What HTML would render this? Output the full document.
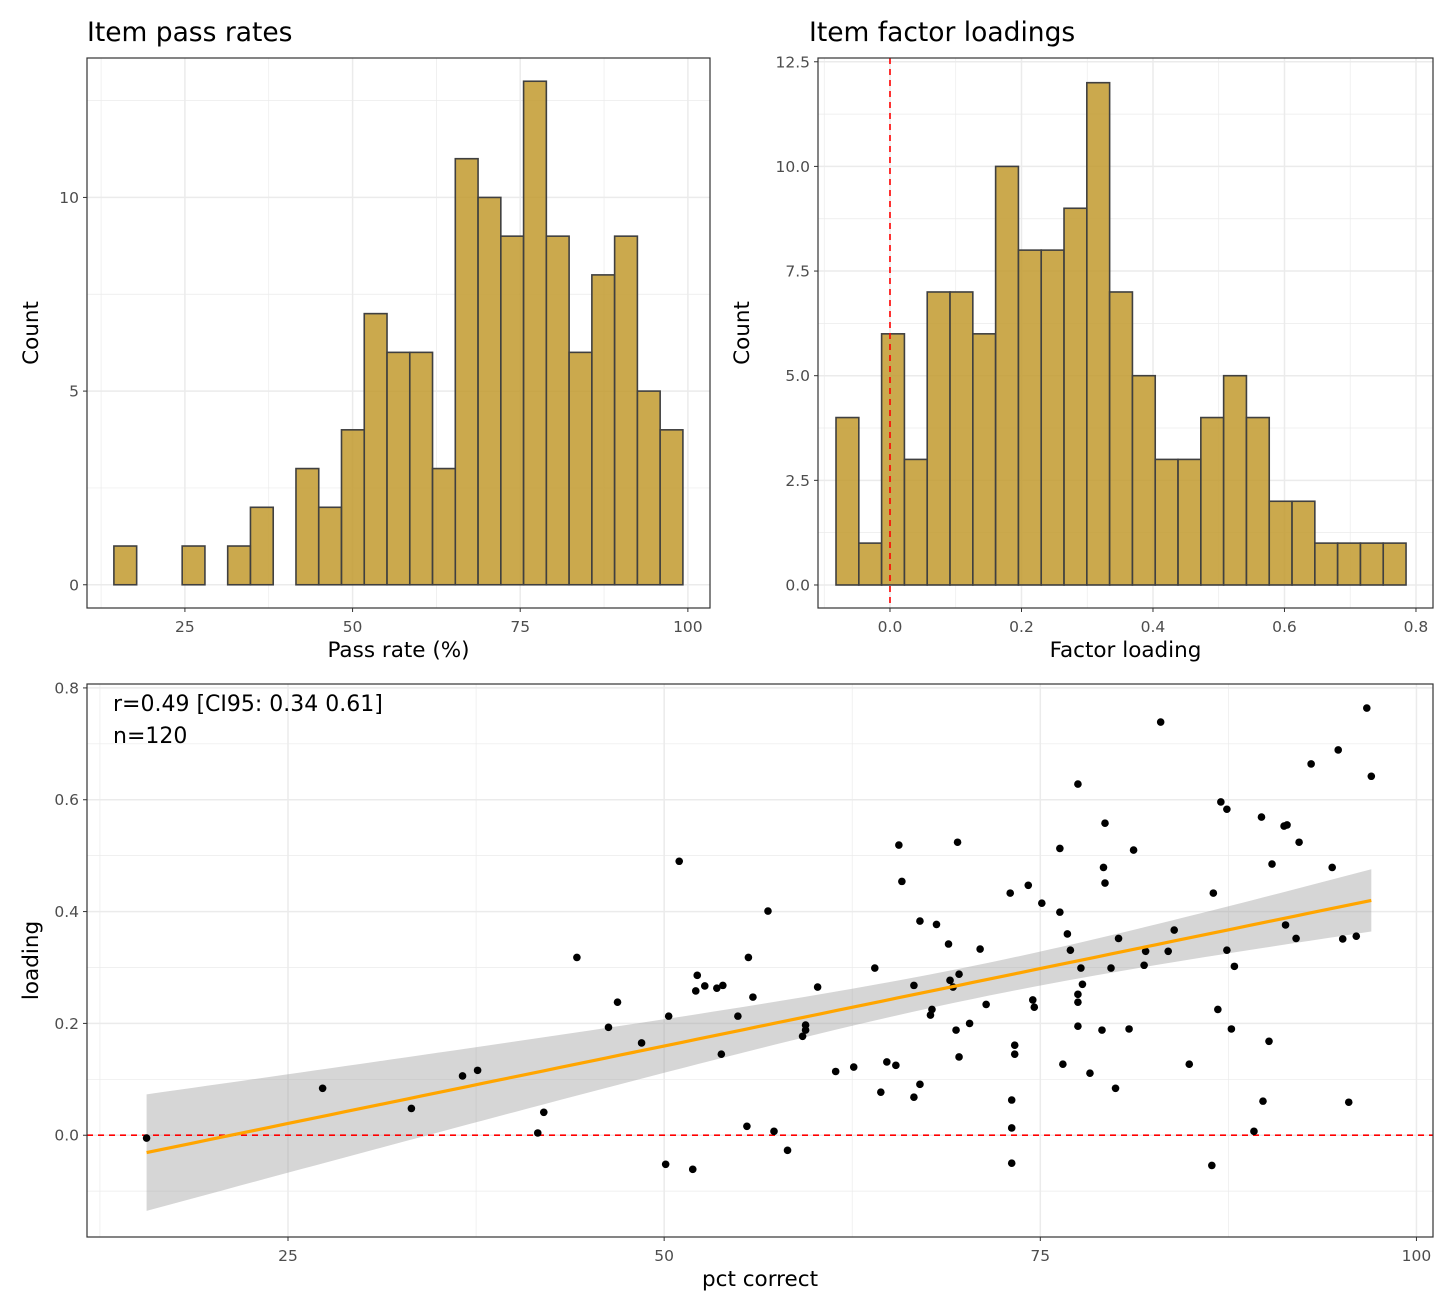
<!DOCTYPE html>
<html><head><meta charset="utf-8">
<style>
body{margin:0;background:#fff;}
svg{display:block;font-family:"DejaVu Sans","Liberation Sans",sans-serif;}
</style></head>
<body>
<svg id="chart" width="1456" height="1310" viewBox="0 0 1456 1310" xmlns="http://www.w3.org/2000/svg"></svg>
<script>
// ---- data ----
const passStart = 14.41, passWidth = 3.394;
const passCounts = [1,0,0,1,0,1,2,0,3,2,4,7,6,6,3,11,10,9,13,9,6,8,9,5,4];
const passXTicks = [25,50,75,100];
const passYTicks = [0,5,10];

const loadStart = -0.0821, loadWidth = 0.03468;
const loadCounts = [4,1,6,3,7,7,6,10,8,8,9,12,7,5,3,3,4,5,4,2,2,1,1,1,1];
const loadXTicks = [0,0.2,0.4,0.6,0.8];
const loadXLabels = ["0.0","0.2","0.4","0.6","0.8"];
const loadYTicks = [0,2.5,5,7.5,10,12.5];
const loadYLabels = ["0.0","2.5","5.0","7.5","10.0","12.5"];

const pctCorrect = [15.6,27.3,33.2,36.6,37.6,41.6,42.0,44.2,46.3,46.9,48.5,50.1,50.3,51.0,51.9,52.1,52.2,52.7,53.5,53.9,53.8,54.9,55.6,55.5,55.9,56.9,57.3,58.2,59.4,59.4,59.2,60.2,61.4,62.6,64.0,64.4,64.8,65.4,65.6,65.8,66.6,66.6,67.0,67.0,67.7,67.8,68.1,68.9,69.0,69.2,69.4,69.5,69.6,69.6,70.3,71.0,71.4,73.0,73.1,73.1,73.1,73.3,73.3,74.2,74.5,74.6,75.1,76.3,76.3,76.5,76.8,77.0,77.5,77.5,77.5,77.5,77.7,77.8,78.3,79.1,79.2,79.3,79.3,79.7,80.0,80.2,80.9,81.2,81.9,82.0,83.0,83.5,83.9,84.9,86.4,86.5,86.8,87.0,87.4,87.4,87.7,87.9,89.2,89.7,89.8,90.2,90.4,91.3,91.2,91.4,92.0,92.2,93.0,94.4,94.8,95.1,95.5,96.0,96.7,97.0];
const loading = [-0.005,0.084,0.048,0.106,0.116,0.004,0.041,0.318,0.193,0.238,0.165,-0.052,0.213,0.490,-0.061,0.258,0.286,0.267,0.263,0.268,0.145,0.213,0.318,0.016,0.247,0.401,0.007,-0.027,0.197,0.188,0.177,0.265,0.114,0.122,0.299,0.077,0.131,0.125,0.519,0.454,0.268,0.068,0.383,0.091,0.215,0.225,0.377,0.342,0.277,0.265,0.188,0.524,0.288,0.140,0.200,0.333,0.234,0.433,-0.050,0.063,0.013,0.145,0.161,0.447,0.242,0.229,0.415,0.399,0.513,0.127,0.360,0.331,0.195,0.238,0.628,0.252,0.299,0.270,0.111,0.188,0.479,0.558,0.451,0.299,0.084,0.352,0.190,0.510,0.304,0.329,0.739,0.329,0.367,0.127,-0.054,0.433,0.225,0.596,0.331,0.583,0.190,0.302,0.007,0.569,0.061,0.168,0.485,0.376,0.553,0.555,0.352,0.524,0.664,0.479,0.689,0.351,0.059,0.356,0.764,0.642];
const scXTicks = [25,50,75,100];
const scYTicks = [0,0.2,0.4,0.6,0.8];
const scYLabels = ["0.0","0.2","0.4","0.6","0.8"];

// ---- helpers ----
const svg = document.getElementById('chart');
const NS = 'http://www.w3.org/2000/svg';
function mk(tag, attrs, parent){
  const e = document.createElementNS(NS, tag);
  for (const k in attrs) e.setAttribute(k, attrs[k]);
  (parent||svg).appendChild(e);
  return e;
}
function txt(s, attrs, parent){ const e = mk('text', attrs, parent); e.textContent = s; return e; }
function lin(d0,d1,r0,r1){ return v => r0 + (v-d0)/(d1-d0)*(r1-r0); }

function panel(name, L, T, R, B, xd, yd, xTicks, xLabels, yTicks, yLabels, xTitle, yTitle, yTitleX, title, titleX){
  const g = mk('g', {});
  
  
  const sx = lin(xd[0], xd[1], L, R), sy = lin(yd[0], yd[1], B, T);
  const step = xTicks[1]-xTicks[0], ystep = yTicks[1]-yTicks[0];
  for (let v = xTicks[0]-step/2; v <= xd[1]; v += step) if (v >= xd[0]) mk('line',{x1:sx(v),x2:sx(v),y1:T,y2:B,stroke:'#ebebeb','stroke-width':0.7},g);
  for (let v = yTicks[0]-ystep/2; v <= yd[1]; v += ystep) if (v >= yd[0]) mk('line',{x1:L,x2:R,y1:sy(v),y2:sy(v),stroke:'#ebebeb','stroke-width':0.7},g);
  xTicks.forEach(v => mk('line',{x1:sx(v),x2:sx(v),y1:T,y2:B,stroke:'#ebebeb','stroke-width':1.5},g));
  yTicks.forEach(v => mk('line',{x1:L,x2:R,y1:sy(v),y2:sy(v),stroke:'#ebebeb','stroke-width':1.5},g));
  xTicks.forEach((v,i) => {
    mk('line',{x1:sx(v),x2:sx(v),y1:B,y2:B+4,stroke:'#333','stroke-width':1},g);
    const t = txt(xLabels[i], {x:sx(v), y:B+24, 'font-size':15.5, fill:'#4d4d4d', 'text-anchor':'middle'}, g);
     
  });
  yTicks.forEach((v,i) => {
    mk('line',{x1:L-4,x2:L,y1:sy(v),y2:sy(v),stroke:'#333','stroke-width':1},g);
    const t = txt(yLabels[i], {x:L-8, y:sy(v)+5.5, 'font-size':15.5, fill:'#4d4d4d', 'text-anchor':'end'}, g);
     
  });
  const xt = txt(xTitle, {x:(L+R)/2, y:B+49, 'font-size':21.5, fill:'#000', 'text-anchor':'middle'}, g);
   
  const yt = txt(yTitle, {x:0, y:0, 'font-size':21.5, fill:'#000', 'text-anchor':'middle', transform:`translate(${yTitleX},${(T+B)/2}) rotate(-90)`}, g);
   
  if (title){
    const tt = txt(title, {x:titleX, y:T-17, 'font-size':26.5, fill:'#000'}, g);
     
  }
  const marks = mk('g', {}, g);
  return {g, marks, sx, sy, border: () => mk('rect',{x:L,y:T,width:R-L,height:B-T,fill:'none',stroke:'#333','stroke-width':1.2},g)};
}

function histogram(p, start, width, counts){
  counts.forEach((c,i) => {
    const x0 = p.sx(start+i*width), x1 = p.sx(start+(i+1)*width);
    const r = mk('rect',{x:x0,y:p.sy(c),width:x1-x0,height:p.sy(0)-p.sy(c),fill:'#C29A2E','fill-opacity':0.85,stroke:'#404040','stroke-width':1.6}, p.marks);
    
    
  });
}

// ---- panel 1 ----
const p1 = panel('pass-rate-histogram', 87, 58, 710, 608, [10.4,103.3], [-0.6,13.6], passXTicks, passXTicks.map(String), passYTicks, passYTicks.map(String), 'Pass rate (%)', 'Count', 38, 'Item pass rates', 87);
histogram(p1, passStart, passWidth, passCounts);
p1.border();

// ---- panel 2 ----
const p2 = panel('factor-loading-histogram', 818, 58, 1433, 608, [-0.1095,0.8259], [-0.55,12.59], loadXTicks, loadXLabels, loadYTicks, loadYLabels, 'Factor loading', 'Count', 749, 'Item factor loadings', 809);
histogram(p2, loadStart, loadWidth, loadCounts);
const vl = mk('line',{x1:p2.sx(0),x2:p2.sx(0),y1:58,y2:608,stroke:'#ff0000','stroke-width':1.6,'stroke-dasharray':'6,5'}, p2.marks);
 
p2.border();

// ---- panel 3 ----
const p3 = panel('scatter-panel', 87, 684, 1433, 1237, [11.64,101.1], [-0.182,0.807], scXTicks, scXTicks.map(String), scYTicks, scYLabels, 'pct correct', 'loading', 38, null, 0);
const n = pctCorrect.length;
const mx = pctCorrect.reduce((a,b)=>a+b,0)/n, my = loading.reduce((a,b)=>a+b,0)/n;
let sxx=0, sxy=0; for (let i=0;i<n;i++){ sxx+=(pctCorrect[i]-mx)**2; sxy+=(pctCorrect[i]-mx)*(loading[i]-my); }
const slope = sxy/sxx, icpt = my - slope*mx;
let sse=0; for (let i=0;i<n;i++) sse += (loading[i]-icpt-slope*pctCorrect[i])**2;
const se = Math.sqrt(sse/(n-2)), tq = 1.98;
const xmin = Math.min(...pctCorrect), xmax = Math.max(...pctCorrect);
const up=[], lo=[], ln=[];
for (let k=0;k<=80;k++){
  const x = xmin + (xmax-xmin)*k/80, yh = icpt+slope*x;
  const h = tq*se*Math.sqrt(1/n + (x-mx)**2/sxx);
  up.push(`${p3.sx(x)},${p3.sy(yh+h)}`); lo.unshift(`${p3.sx(x)},${p3.sy(yh-h)}`); ln.push(`${p3.sx(x)},${p3.sy(yh)}`);
}
const band = mk('polygon',{points:up.concat(lo).join(' '),fill:'#999999','fill-opacity':0.4}, p3.marks);
 
const hl = mk('line',{x1:87,x2:1433,y1:p3.sy(0),y2:p3.sy(0),stroke:'#ff0000','stroke-width':1.6,'stroke-dasharray':'6,5'}, p3.marks);
 
for (let i=0;i<n;i++){
  const c = mk('circle',{cx:p3.sx(pctCorrect[i]),cy:p3.sy(loading[i]),r:3.8,fill:'#000'}, p3.marks);
  
  
}
const fit = mk('polyline',{points:ln.join(' '),fill:'none',stroke:'#FFA500','stroke-width':3.2}, p3.marks);
 
const a1 = txt('r=0.49 [CI95: 0.34 0.61]', {x:113, y:711, 'font-size':22, fill:'#000'}, p3.g);
 
const a2 = txt('n=120', {x:113, y:743, 'font-size':22, fill:'#000'}, p3.g);
 
p3.border();
</script>
</body></html>
